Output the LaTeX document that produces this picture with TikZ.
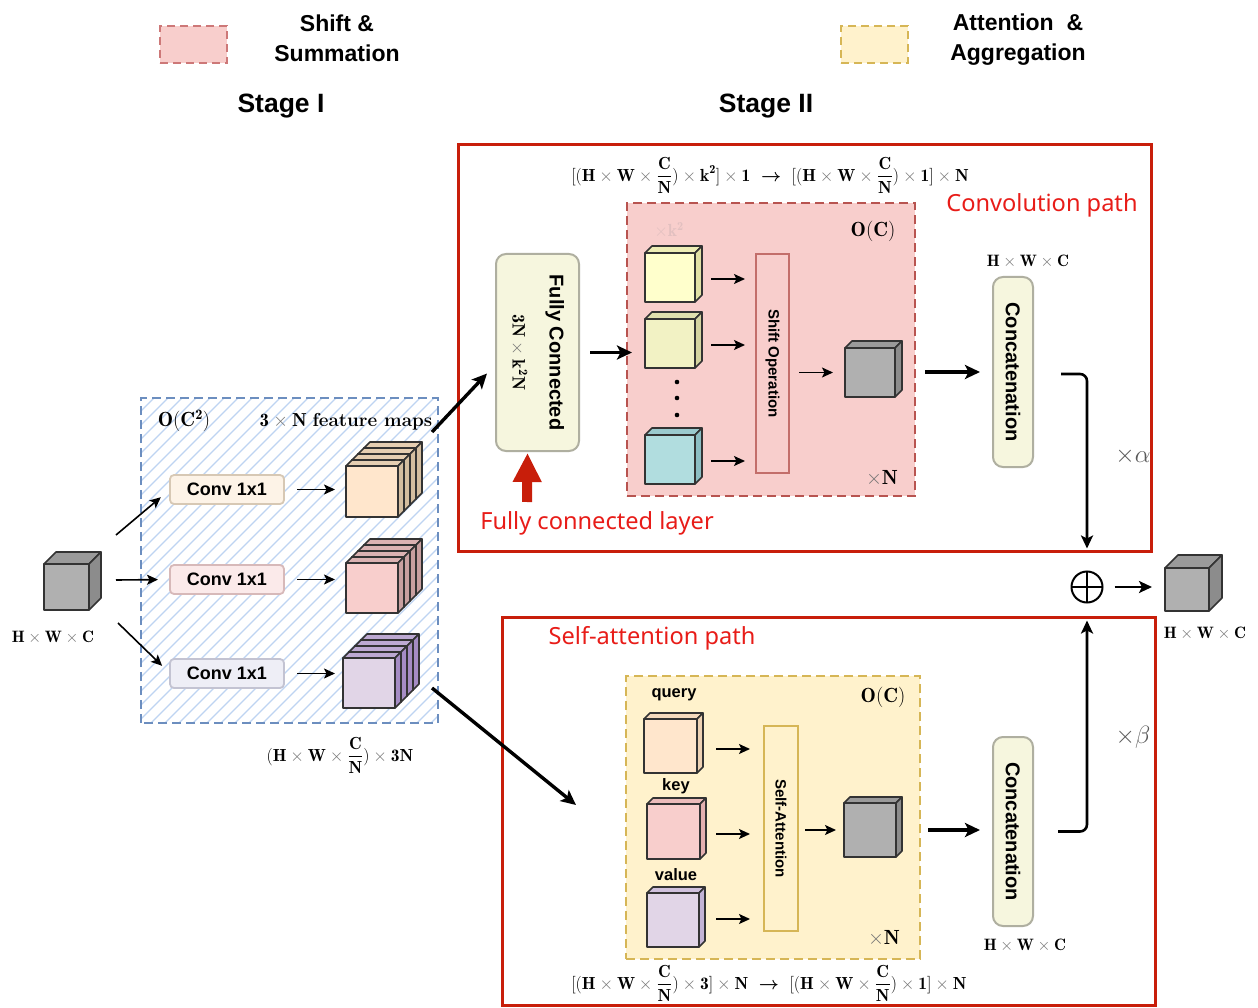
\RequirePackage{fix-cm}
\documentclass[tikz,border=0pt]{standalone}
\usepackage{fontspec}
\usetikzlibrary{arrows.meta,calc}
\newfontfamily\arialfont{Liberation Sans}
\newfontfamily\notofont{Noto Sans}

\definecolor{redline}{RGB}{200,30,10}
\definecolor{redlabel}{RGB}{232,28,24}
\definecolor{pinkfill}{HTML}{F8CECC}
\definecolor{pinkline}{HTML}{B85450}
\definecolor{pinkleg}{RGB}{205,120,120}
\definecolor{pinkfaint}{RGB}{226,192,192}
\definecolor{yelfill}{HTML}{FFF2CC}
\definecolor{yelline}{HTML}{D6B656}
\definecolor{bluedash}{HTML}{6C8EBF}
\definecolor{hatchblue}{RGB}{190,212,242}
\definecolor{fcfill}{RGB}{246,246,222}
\definecolor{fcline}{RGB}{175,175,160}
\definecolor{greyfront}{RGB}{176,176,176}
\definecolor{greyside}{RGB}{140,140,140}
\definecolor{conv1fill}{RGB}{253,243,231}
\definecolor{conv1line}{RGB}{215,200,180}
\definecolor{conv2fill}{RGB}{251,234,234}
\definecolor{conv2line}{RGB}{215,185,185}
\definecolor{conv3fill}{RGB}{238,238,246}
\definecolor{conv3line}{RGB}{195,195,210}
\definecolor{peach}{RGB}{255,230,204}
\definecolor{peachside}{RGB}{212,190,160}
\definecolor{peachsidelt}{RGB}{238,210,180}
\definecolor{pinkside}{RGB}{200,160,160}
\definecolor{pinksidelt}{RGB}{228,176,176}
\definecolor{lilac}{RGB}{225,213,231}
\definecolor{lilacside}{RGB}{165,140,196}
\definecolor{lilacsidelt}{RGB}{196,180,214}
\definecolor{lemon}{RGB}{255,255,204}
\definecolor{lemonside}{RGB}{225,225,165}
\definecolor{olive}{RGB}{242,242,196}
\definecolor{oliveside}{RGB}{212,212,160}
\definecolor{aqua}{RGB}{177,221,223}
\definecolor{aquaside}{RGB}{140,190,195}

% a cube: front face is a named node, top and side faces drawn behind it
\newcommand\drawcube[8]{% name, x, y, width, height, depth, front colour, side colour
  \filldraw[cubeedge, fill=#8!60!#7] (#2,#3) -- ++(#6,-#6) -- ++(#4,0) -- ++(-#6,#6) -- cycle;
  \filldraw[cubeedge, fill=#8] (#2+#4,#3) -- ++(#6,-#6) -- ++(0,#5) -- ++(-#6,#6) -- cycle;
  \node[cubeedge, fill=#7, minimum width=#4, minimum height=#5, anchor=north west] (#1) at (#2,#3) {};
}

\tikzset{
  every node/.style={inner sep=0pt, outer sep=0pt},
  cubeedge/.style={draw=black!80, line width=1.6pt, line join=round},
  arr/.style={-{Stealth[length=11pt,width=10pt,inset=2.5pt]}, line width=1.6pt},
  marr/.style={-{Stealth[length=13pt,width=12pt,inset=3pt]}, line width=2.6pt},
  tarr/.style={-{Stealth[length=15pt,width=14pt,inset=3.5pt]}, line width=3.4pt},
  legbox/.style={draw, dashed, dash pattern=on 8pt off 5pt, line width=2.2pt, minimum width=67, minimum height=37},
  legtext/.style={align=center, font=\arialfont\bfseries\fontsize{23}{30}\selectfont},
  stagetext/.style={font=\arialfont\bfseries\fontsize{26.5}{30}\selectfont},
  pathbox/.style={draw=redline, line width=3pt},
  redtext/.style={text=redlabel, font=\notofont\fontsize{23.6}{27}\selectfont},
  mathtext/.style={font=\fontsize{17.5}{20}\selectfont},
  costtext/.style={font=\fontsize{20.5}{24}\selectfont},
  dimtext/.style={font=\fontsize{16.5}{19}\selectfont},
  areabox/.style={dashed, dash pattern=on 9pt off 5pt, line width=2.4pt},
  fcbox/.style={draw=fcline, fill=fcfill, line width=2pt, rounded corners=10pt},
  convbox/.style={rounded corners=4pt, line width=1.8pt, minimum width=114, minimum height=29,
    font=\arialfont\bfseries\fontsize{18}{22}\selectfont},
  opbox/.style={line width=1.8pt},
  sidetext/.style={rotate=-90, font=\arialfont\bfseries\fontsize{20}{37}\selectfont, align=center},
  optext/.style={rotate=-90, font=\arialfont\bfseries\fontsize{15}{18}\selectfont},
  qkvtext/.style={font=\arialfont\bfseries\fontsize{16.5}{19}\selectfont},
  weighttext/.style={text=black!65, font=\fontsize{25}{28}\selectfont},
}

% light multiplication sign used in the shape formulas
\newcommand\tm{\mathbin{\textcolor{black!55}{\times}}}
\newcommand\hwcdim{$\mathbf{H}\tm\mathbf{W}\tm\mathbf{C}$}

\begin{document}
\begin{tikzpicture}[x=1pt,y=-1pt]
\useasboundingbox (0,0) rectangle (1258,1008);
\fill[white] (0,0) rectangle (1258,1008);

% ---------- legend and stage titles ----------
\node[legbox, fill=pinkfill, draw=pinkleg] (legshift) at (193.5,44.5) {};
\node[legtext] (legshifttxt) at (337,38) {Shift \&\\Summation};
\node[legbox, fill=yelfill, draw=yelline] (legatt) at (874.5,44.5) {};
\node[legtext] (legatttxt) at (1018,40) {Attention~~\&\\Aggregation};
\node[stagetext] (stage1) at (281,106) {Stage I};
\node[stagetext] (stage2) at (766,106) {Stage II};

% ---------- path frames ----------
\node[pathbox, minimum width=693, minimum height=406] (convpath) at (804.5,348) {};
\node[pathbox, minimum width=653, minimum height=388] (attpath) at (828.5,811) {};
\node[redtext] (convlbl) at (1042,205) {Convolution path};
\node[redtext] (attlbl) at (652,638) {Self-attention path};

% ---------- stage I ----------
\node[fill=white, minimum width=297, minimum height=325] (s1) at (289.5,560.5) {};
\begin{scope}
  \clip (s1.south west) rectangle (s1.north east);
  \foreach \i in {-220,-206,...,460}
    \draw[hatchblue, line width=1.3pt] (\i,730) -- ++(350,-350);
\end{scope}
\draw[areabox, bluedash] (s1.south west) rectangle (s1.north east);
\node[costtext] (s1cost) at (184,421) {$\mathbf{O(C^2)}$};
\node[font=\fontsize{18.8}{22}\selectfont] (s1maps) at (346,422) {$\mathbf{3}\tm\mathbf{N}$~\textbf{feature maps}};

\drawcube{incube}{44}{564}{45}{46}{12}{greyfront}{greyside}
\node[dimtext] (indim) at (53,637) {\hwcdim};

\node[convbox, draw=conv1line, fill=conv1fill] (conv1) at (227,489.5) {Conv 1x1};
\node[convbox, draw=conv2line, fill=conv2fill] (conv2) at (227,579.5) {Conv 1x1};
\node[convbox, draw=conv3line, fill=conv3fill] (conv3) at (227,673.5) {Conv 1x1};

\coordinate (in1) at (116,535);
\coordinate (in2) at (116,580);
\coordinate (in3) at (118,623);
\draw[arr, shorten >=12pt] (in1) -- (conv1.west);
\draw[arr, shorten >=12pt] (in2) -- (conv2.west);
\draw[arr, shorten >=11pt] (in3) -- (conv3.west);

% stacked feature maps
\foreach \k in {3,2,1} {
  \drawcube{stA\k}{346+6*\k}{466-6*\k}{52}{51}{6}{peach}{peachside}
}
\drawcube{stackA}{346}{466}{52}{51}{6}{peach}{peachside}
\foreach \k in {3,2,1} {
  \drawcube{stB\k}{346+6*\k}{563-6*\k}{52}{50}{6}{pinkfill}{pinkside}
}
\drawcube{stackB}{346}{563}{52}{50}{6}{pinkfill}{pinkside}
\foreach \k in {3,2,1} {
  \drawcube{stC\k}{343+6*\k}{658-6*\k}{52}{50}{6}{lilac}{lilacside}
}
\drawcube{stackC}{343}{658}{52}{50}{6}{lilac}{lilacside}

\draw[arr, shorten <=13pt, shorten >=11pt] (conv1.east) -- (conv1.east -| stackA.west);
\draw[arr, shorten <=13pt, shorten >=11pt] (conv2.east) -- (conv2.east -| stackB.west);
\draw[arr, shorten <=13pt, shorten >=8pt] (conv3.east) -- (conv3.east -| stackC.west);

\node[mathtext] (s1dim) at (340,755) {$\displaystyle(\mathbf{H}\tm\mathbf{W}\tm\frac{\mathbf{C}}{\mathbf{N}})\tm\mathbf{3N}$};

% ---------- convolution path ----------
\node[mathtext] (convshape) at (770,175) {$\displaystyle\mathbf{[(H}\tm\mathbf{W}\tm\frac{\mathbf{C}}{\mathbf{N}}\mathbf{)}\tm\mathbf{k^2]}\tm\mathbf{1}$~~{\boldmath$\rightarrow$}~~$\displaystyle\mathbf{[(H}\tm\mathbf{W}\tm\frac{\mathbf{C}}{\mathbf{N}}\mathbf{)}\tm\mathbf{1]}\tm\mathbf{N}$};

\node[fcbox, minimum width=83, minimum height=197] (fc) at (537.5,352.5) {};
\node[sidetext] (fctxt) at (fc.center) {Fully Connected\\{\fontsize{18}{21}\selectfont$\mathbf{3N}\tm\mathbf{k^2N}$}};
\coordinate (fcin) at (527,502);
\draw[line width=10pt, redline, -{Triangle[length=29pt,width=27pt]}] (fcin) -- ($(fc.south)+(-10,2)$);
\node[redtext] (fclbl) at (597,523) {Fully connected layer};

\draw[tarr] ($(s1.north east)+(-6,34)$) -- ($(fc.west)+(-9,21)$);

\node[areabox, draw=pinkline, fill=pinkfill, minimum width=288, minimum height=293] (shiftarea) at (771,349.5) {};
\node[mathtext, text=pinkfaint] (kk) at (669,230) {$\mathbf{\times k^2}$};
\node[costtext] (shiftcost) at (873,231) {$\mathbf{O(C)}$};
\node[costtext] (shiftrep) at (882,478) {$\tm\mathbf{N}$};

\draw[tarr, shorten <=11pt, shorten >=-5pt] (fc.east) -- (fc.east -| shiftarea.west);

\drawcube{ca}{645}{253}{50}{49}{7}{lemon}{lemonside}
\drawcube{cb}{645}{319}{50}{49}{7}{olive}{oliveside}
\drawcube{cc}{645}{435}{50}{49}{7}{aqua}{aquaside}
\foreach \yy [count=\n] in {382,398,415}
  \fill (677,\yy) circle (2.3pt) coordinate (dot\n);

\node[opbox, draw=pinkline!85, fill=pinkfill, minimum width=33, minimum height=219] (shiftop) at (772.5,363.5) {};
\node[optext] (shiftoptxt) at (shiftop.center) {Shift Operation};

\draw[arr, shorten <=16pt, shorten >=11pt] ([yshift=-1.5pt]ca.east) -- ([yshift=-1.5pt]ca.east -| shiftop.west);
\draw[arr, shorten <=16pt, shorten >=11pt] ([yshift=-1.5pt]cb.east) -- ([yshift=-1.5pt]cb.east -| shiftop.west);
\draw[arr, shorten <=16pt, shorten >=11pt] ([yshift=-1.5pt]cc.east) -- ([yshift=-1.5pt]cc.east -| shiftop.west);

\drawcube{convout}{845}{348}{50}{49}{7}{greyfront}{greyside}
\draw[arr, shorten <=10pt, shorten >=12pt] (shiftop.east |- convout.west) -- (convout.west);

\node[fcbox, minimum width=40, minimum height=190] (cat1) at (1013,372) {};
\node[sidetext] (cat1txt) at (cat1.center) {Concatenation};
\node[dimtext] (cat1dim) at (1028,261) {\hwcdim};
\draw[tarr, shorten <=10pt, shorten >=13pt] (shiftarea.east |- cat1.west) -- (cat1.west);

% ---------- fusion ----------
\node[draw, circle, line width=2pt, minimum size=31,
  path picture={\draw[line width=2pt] (path picture bounding box.north) -- (path picture bounding box.south)
                (path picture bounding box.west) -- (path picture bounding box.east);}] (plus) at (1087,587) {};
\draw[marr, rounded corners=7pt, shorten >=23pt] ([xshift=28pt,yshift=-2pt]cat1.east) -| (plus.north);
\node[weighttext] (alpha) at (1133,456) {$\times\alpha$};

\drawcube{outcube}{1165}{568}{44}{43}{13}{greyfront}{greyside}
\node[dimtext] (outdim) at (1205,633) {\hwcdim};
\draw[marr, shorten <=12pt, shorten >=13pt] (plus.east) -- (plus.east -| outcube.west);

% ---------- self-attention path ----------
\node[areabox, draw=yelline, fill=yelfill, minimum width=294, minimum height=283] (attarea) at (773,817.5) {};
\node[costtext] (attcost) at (883,697) {$\mathbf{O(C)}$};
\node[costtext] (attrep) at (884,938) {$\tm\mathbf{N}$};

\draw[tarr] ($(s1.south east)+(-6,-35)$) -- ($(attarea.west)+(-50,-12.5)$);

\node[qkvtext] (qlbl) at (674,695) {query};
\node[qkvtext] (klbl) at (676,786) {key};
\node[qkvtext] (vlbl) at (676,875) {value};
\drawcube{qcube}{644}{719}{53}{54}{6}{peach}{peachsidelt}
\drawcube{kcube}{647}{804}{53}{55}{6}{pinkfill}{pinksidelt}
\drawcube{vcube}{647}{893}{52}{54}{6}{lilac}{lilacsidelt}

\node[opbox, draw=yelline, fill=yelfill, minimum width=34, minimum height=205] (selfatt) at (781,828.5) {};
\node[optext] (selfatttxt) at (selfatt.center) {Self-Attention};

\draw[arr, shorten <=19pt, shorten >=14pt] ([yshift=-3pt]qcube.east) -- ([yshift=-3pt]qcube.east -| selfatt.west);
\draw[arr, shorten <=16pt, shorten >=14pt] ([yshift=-2.5pt]kcube.east) -- ([yshift=-2.5pt]kcube.east -| selfatt.west);
\draw[arr, shorten <=17pt, shorten >=14pt] ([yshift=1pt]vcube.east) -- ([yshift=1pt]vcube.east -| selfatt.west);

\drawcube{attout}{844}{803}{52}{54}{6}{greyfront}{greyside}
\draw[arr, shorten <=7pt, shorten >=8pt] (selfatt.east |- attout.west) -- (attout.west);

\node[fcbox, minimum width=40, minimum height=189] (cat2) at (1013,831.5) {};
\node[sidetext] (cat2txt) at (cat2.center) {Concatenation};
\node[dimtext] (cat2dim) at (1025,945) {\hwcdim};
\draw[tarr, shorten <=8pt, shorten >=13pt] (attarea.east |- attout.west) -- (cat2.west |- attout.west);

\draw[marr, rounded corners=7pt, shorten >=18pt] ([xshift=25pt]cat2.east) -| (plus.south);
\node[weighttext] (beta) at (1133,737) {$\times\beta$};

\node[mathtext] (attshape) at (769,983) {$\displaystyle\mathbf{[(H}\tm\mathbf{W}\tm\frac{\mathbf{C}}{\mathbf{N}}\mathbf{)}\tm\mathbf{3]}\tm\mathbf{N}$~~{\boldmath$\rightarrow$}~~$\displaystyle\mathbf{[(H}\tm\mathbf{W}\tm\frac{\mathbf{C}}{\mathbf{N}}\mathbf{)}\tm\mathbf{1]}\tm\mathbf{N}$};
\end{tikzpicture}
\end{document}
